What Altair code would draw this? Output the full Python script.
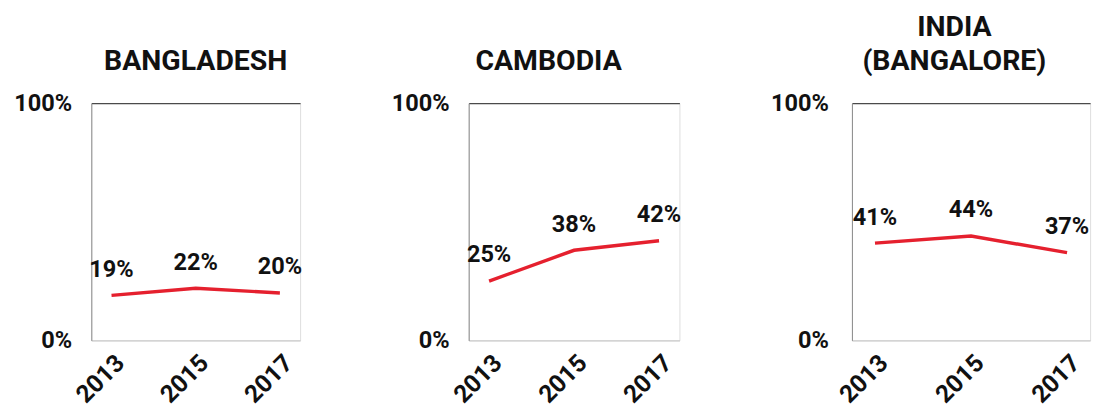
import altair as alt
import pandas as pd

years = ["2013", "2015", "2017"]
countries = ["BANGLADESH", "CAMBODIA", "INDIA (BANGALORE)"]
titles = [["BANGLADESH"], ["CAMBODIA"], ["INDIA", "(BANGALORE)"]]
bangladesh = [0.19, 0.22, 0.20]
cambodia = [0.25, 0.38, 0.42]
india = [0.41, 0.44, 0.37]
series = [bangladesh, cambodia, india]

widths = [213, 215, 243]
title_dx = [0, -26, -17]
ylab_pad = [20, 20, 24]

FONT = "Roboto"
RED = "#e5202e"
FS = 24


def panel(i):
    df = pd.DataFrame({"year": years, "value": series[i]})
    x = alt.X("year:O", sort=years,
              scale=alt.Scale(type="point", padding=0.24),
              axis=alt.Axis(title=None, labelAngle=-45, domain=False, ticks=False,
                            labelFont=FONT, labelFontSize=25, labelFontWeight="bold",
                            labelColor="#111", labelPadding=10, grid=False))
    y = alt.Y("value:Q", scale=alt.Scale(domain=[0, 1]),
              axis=alt.Axis(title=None, values=[0, 1], format=".0%", ticks=False,
                            domainColor="#8a8a8a", domainWidth=1,
                            grid=True,
                            gridColor=alt.condition("datum.value == 1", alt.value("#222222"), alt.value("#c4c4c4")),
                            gridWidth=1,
                            labelFont=FONT, labelFontSize=FS, labelFontWeight="bold",
                            labelColor="#111", labelPadding=ylab_pad[i]))
    base = alt.Chart(df).encode(x=x, y=y)
    line = base.mark_line(color=RED, strokeWidth=3.5)
    text = base.mark_text(dy=-26, font=FONT, fontSize=FS, fontWeight="bold", color="#111").encode(
        text=alt.Text("value:Q", format=".0%"))
    return alt.layer(line, text).properties(
        width=widths[i], height=242,
        title=alt.TitleParams(text=titles[i], font=FONT, fontSize=29, fontWeight="bold",
                              color="#111", anchor="middle", dx=title_dx[i], offset=16,
                              lineHeight=35),
    )


chart = alt.hconcat(panel(0), panel(1), panel(2), spacing=89).configure_view(
    stroke=None
).configure(background="white", padding={"top": 0, "left": 5, "right": 5, "bottom": 5})

chart.save("out.html", embed_options={"renderer": "svg", "actions": False})
